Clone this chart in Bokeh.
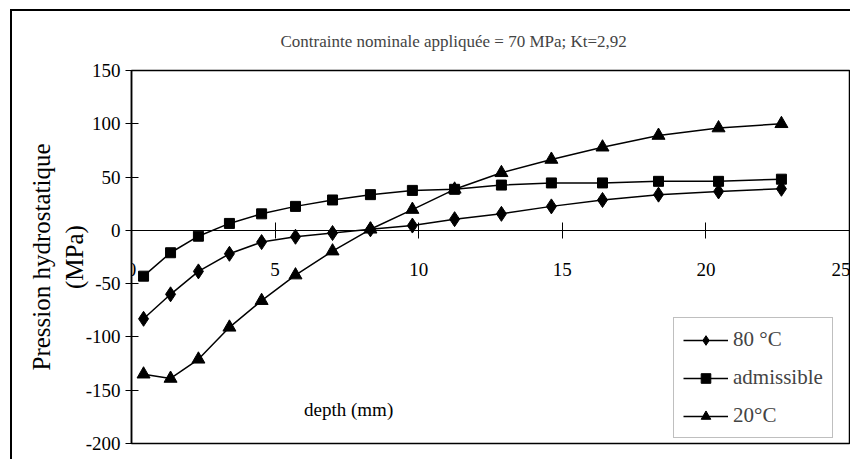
from bokeh.plotting import figure
from bokeh.models import Range1d, FixedTicker, Legend, LegendItem, Label
from bokeh.embed import file_html
from bokeh.resources import INLINE

# ---- data ----
depth = [0.42, 1.36, 2.33, 3.41, 4.53, 5.71, 7.00, 8.32, 9.78, 11.25, 12.88, 14.62, 16.40, 18.35, 20.44, 22.63]
p80 = [-83, -60, -38.5, -22, -11, -6, -2.5, 1, 4.5, 10.5, 15.5, 22.5, 28.5, 33.5, 36.5, 39]
padm = [-43, -21, -5.5, 6.5, 15.5, 22.5, 28.5, 33.5, 37.5, 38.5, 42.5, 44.5, 44.5, 46, 46, 48]
p20 = [-135, -139, -121, -91, -66, -42, -19.5, 1, 19.5, 38.5, 54, 66.5, 78, 89, 96, 100]
series_labels = ["80 °C", "admissible", "20°C"]
x_ticks = [0, 5, 10, 15, 20, 25]
y_ticks = [-200, -150, -100, -50, 0, 50, 100, 150]
title_text = "Contrainte nominale appliquée = 70 MPa; Kt=2,92"
x_label = "depth (mm)"
y_label = "Pression hydrostatique\n(MPa)"

FONT = "Liberation Serif"

p = figure(width=840, height=450, output_backend="svg", toolbar_location=None,
           x_range=Range1d(0, 25), y_range=Range1d(-200, 150),
           min_border_left=119, min_border_right=3, min_border_top=59, min_border_bottom=18)
p.styles = {"border-left": "2px solid black", "border-top": "2px solid black",
            "margin-left": "10px", "margin-top": "9px"}

p.xgrid.visible = False
p.ygrid.visible = False
p.outline_line_color = "black"
p.outline_line_width = 1.5

# title
p.title.text = title_text
p.title.text_font = FONT
p.title.text_font_size = "17px"
p.title.text_font_style = "normal"
p.title.align = "left"
p.title.offset = 149
p.title.vertical_align = "top"
p.title.standoff = 36

# x axis crossing at 0
xa = p.xaxis[0]
xa.fixed_location = 0
xa.ticker = FixedTicker(ticks=x_ticks)
xa.major_label_overrides = {t: str(t) for t in x_ticks}
xa.major_tick_in = 8
xa.major_tick_out = 8
xa.minor_tick_line_color = None
xa.major_label_standoff = 25
xa.major_label_text_font = FONT
xa.major_label_text_font_size = "19px"
xa.major_label_text_color = "black"
xa.axis_line_color = "black"
xa.major_tick_line_color = "black"

ya = p.yaxis[0]
ya.ticker = FixedTicker(ticks=y_ticks)
ya.major_label_overrides = {t: str(t) for t in y_ticks}
ya.major_tick_in = 7
ya.major_tick_out = 6
ya.minor_tick_line_color = None
ya.major_label_standoff = 5
ya.major_label_text_font = FONT
ya.major_label_text_font_size = "19px"
ya.major_label_text_color = "black"
ya.axis_line_color = "black"
ya.axis_line_width = 1.5
ya.major_tick_line_color = "black"
ya.axis_label = y_label
ya.axis_label_text_font = FONT
ya.axis_label_text_font_size = "25px"
ya.axis_label_text_font_style = "normal"
ya.axis_label_text_color = "black"
ya.axis_label_standoff = -5

# series
l1 = p.line(depth, p80, line_color="black", line_width=1.5)
s1 = p.scatter(depth, p80, marker="diamond", size=15, color="black")
l2 = p.line(depth, padm, line_color="black", line_width=1.5)
s2 = p.scatter(depth, padm, marker="square", size=10, color="black")
l3 = p.line(depth, p20, line_color="black", line_width=1.5)
s3 = p.scatter(depth, p20, marker="triangle", size=13, color="black")

legend = Legend(items=[
    LegendItem(label=series_labels[0], renderers=[l1, s1]),
    LegendItem(label=series_labels[1], renderers=[l2, s2]),
    LegendItem(label=series_labels[2], renderers=[l3, s3]),
], location=(542, 5))
legend.margin = 0
legend.padding = 9
legend.spacing = 13
legend.glyph_width = 45
legend.glyph_height = 24
legend.label_height = 24
legend.label_standoff = 5
legend.label_text_font = FONT
legend.label_text_font_size = "21px"
legend.border_line_color = "#808080"
legend.border_line_width = 1
legend.background_fill_color = "white"
legend.background_fill_alpha = 1
p.add_layout(legend)

p.add_layout(Label(x=7.56, y=-168, text=x_label, text_align="center", text_baseline="middle",
                   text_font=FONT, text_font_size="19px", text_color="black"))

open("out.html", "w").write(file_html(p, INLINE))
